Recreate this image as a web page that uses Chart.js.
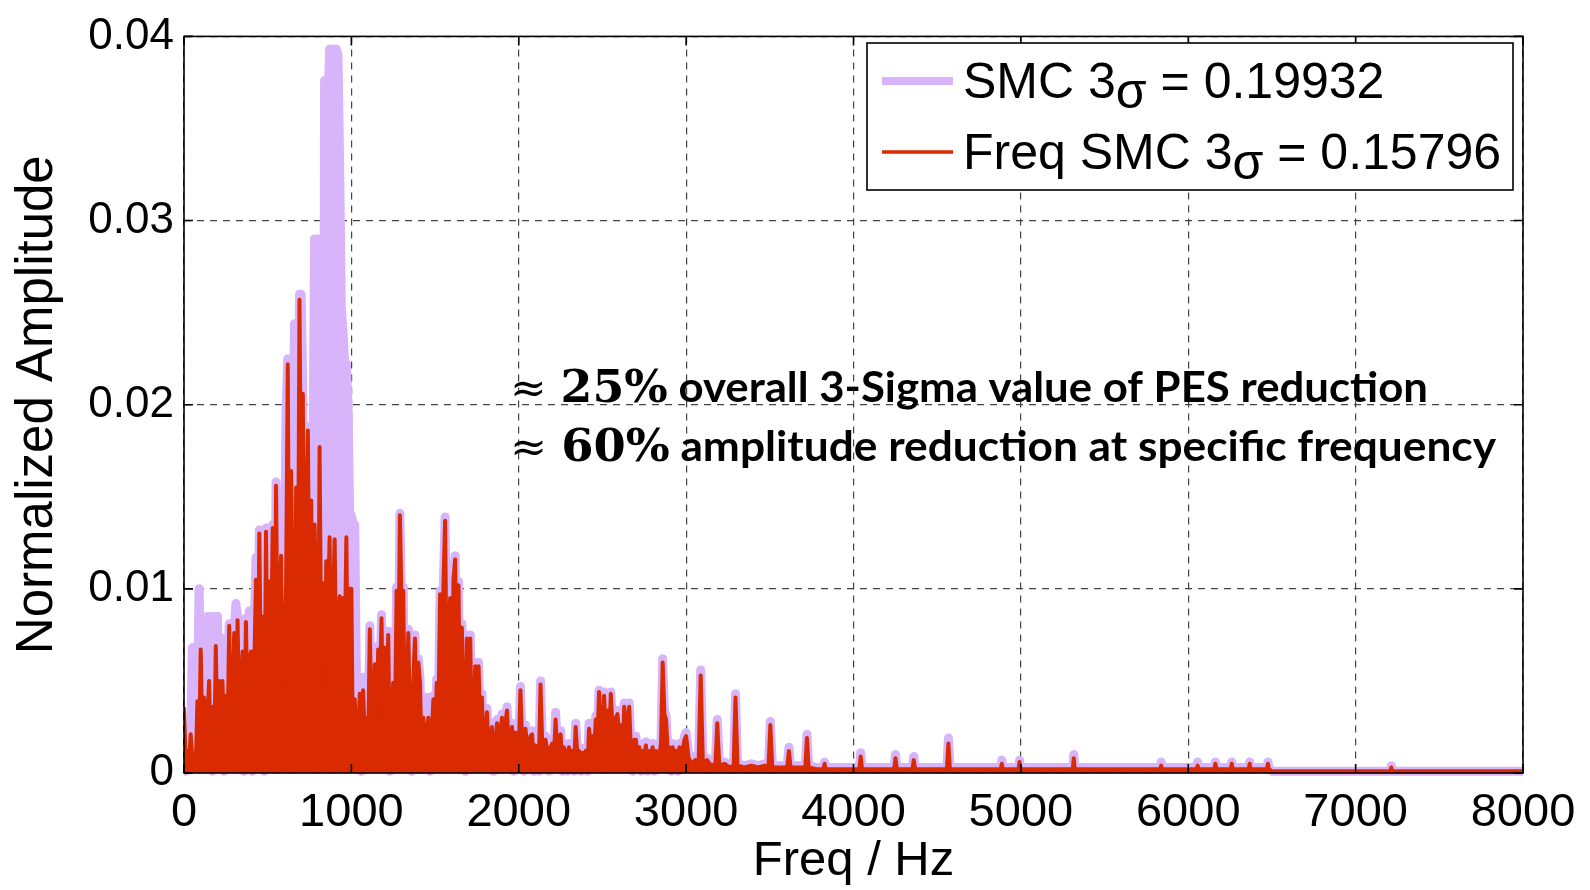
<!DOCTYPE html>
<html>
<head>
<meta charset="utf-8">
<script src="https://cdn.jsdelivr.net/npm/chart.js@4.4.0/dist/chart.umd.min.js"></script>
<style>
  body { margin: 0; background: #fff; }
  #spectrum { display: block; }
</style>
</head>
<body>
<canvas id="spectrum" width="1590" height="890"></canvas>
<script>
// FFT amplitude of the position error signal, plain SMC vs frequency-shaped SMC
// dense low band: one value per 10 Hz bin from 0 to 3000 Hz
const binHz = 10
const smcLow = [
  0.0020, 0.0001, 0.0020, 0.0012, 0.0022, 0.0068, 0.0030, 0.0055, 0.0042, 0.0100,
  0.0060, 0.0085, 0.0082, 0.0040, 0.0085, 0.0060, 0.0085, 0.0001, 0.0085, 0.0070,
  0.0085, 0.0040, 0.0073, 0.0073, 0.0001, 0.0060, 0.0045, 0.0081, 0.0079, 0.0040,
  0.0078, 0.0092, 0.0085, 0.0035, 0.0060, 0.0079, 0.0001, 0.0084, 0.0050, 0.0088,
  0.0070, 0.0001, 0.0080, 0.0117, 0.0050, 0.0132, 0.0060, 0.0095, 0.0001, 0.0133,
  0.0060, 0.0110, 0.0080, 0.0135, 0.0002, 0.0158, 0.0090, 0.0110, 0.0120, 0.0070,
  0.0110, 0.0198, 0.0225, 0.0002, 0.0166, 0.0160, 0.0244, 0.0244, 0.0150, 0.0260,
  0.0260, 0.0208, 0.0002, 0.0180, 0.0188, 0.0185, 0.0150, 0.0160, 0.0290, 0.0290,
  0.0290, 0.0260, 0.0290, 0.0002, 0.0376, 0.0376, 0.0360, 0.0393, 0.0393, 0.0393,
  0.0393, 0.0393, 0.0390, 0.0330, 0.0252, 0.0240, 0.0222, 0.0222, 0.0200, 0.0140,
  0.0140, 0.0135, 0.0135, 0.0052, 0.0040, 0.0052, 0.0001, 0.0052, 0.0030, 0.0035,
  0.0012, 0.0080, 0.0032, 0.0027, 0.0061, 0.0006, 0.0069, 0.0042, 0.0086, 0.0017,
  0.0070, 0.0032, 0.0077, 0.0001, 0.0037, 0.0051, 0.0022, 0.0101, 0.0047, 0.0141,
  0.0092, 0.0101, 0.0008, 0.0042, 0.0078, 0.0027, 0.0001, 0.0052, 0.0075, 0.0022,
  0.0062, 0.0051, 0.0006, 0.0032, 0.0041, 0.0024, 0.0041, 0.0001, 0.0022, 0.0042,
  0.0014, 0.0051, 0.0032, 0.0099, 0.0013, 0.0104, 0.0139, 0.0042, 0.0072, 0.0097,
  0.0008, 0.0107, 0.0118, 0.0052, 0.0104, 0.0022, 0.0081, 0.0037, 0.0001, 0.0075,
  0.0042, 0.0075, 0.0017, 0.0032, 0.0060, 0.0006, 0.0060, 0.0027, 0.0043, 0.0008,
  0.0022, 0.0035, 0.0014, 0.0020, 0.0027, 0.0001, 0.0017, 0.0029, 0.0012, 0.0024,
  0.0032, 0.0006, 0.0029, 0.0036, 0.0014, 0.0022, 0.0027, 0.0001, 0.0024, 0.0017,
  0.0014, 0.0047, 0.0020, 0.0001, 0.0026, 0.0017, 0.0012, 0.0022, 0.0023, 0.0001,
  0.0017, 0.0014, 0.0001, 0.0050, 0.0018, 0.0010, 0.0020, 0.0014, 0.0001, 0.0016,
  0.0018, 0.0010, 0.0033, 0.0014, 0.0020, 0.0023, 0.0001, 0.0016, 0.0013, 0.0001,
  0.0016, 0.0011, 0.0014, 0.0001, 0.0027, 0.0012, 0.0014, 0.0001, 0.0013, 0.0010,
  0.0014, 0.0001, 0.0027, 0.0017, 0.0026, 0.0012, 0.0031, 0.0020, 0.0045, 0.0027,
  0.0014, 0.0044, 0.0022, 0.0036, 0.0017, 0.0044, 0.0027, 0.0008, 0.0032, 0.0034,
  0.0020, 0.0028, 0.0006, 0.0038, 0.0022, 0.0030, 0.0038, 0.0014, 0.0001, 0.0020,
  0.0020, 0.0006, 0.0016, 0.0001, 0.0014, 0.0012, 0.0017, 0.0001, 0.0014, 0.0011,
  0.0016, 0.0001, 0.0014, 0.0010, 0.0012, 0.0018, 0.0062, 0.0034, 0.0031, 0.0014,
  0.0016, 0.0001, 0.0016, 0.0010, 0.0014, 0.0001, 0.0016, 0.0012, 0.0015, 0.0020,
  0.0022
]
const freqSmcLow = [
  0.0035, 0.0006, 0.0012, 0.0004, 0.0021, 0.0008, 0.0010, 0.0002, 0.0039, 0.0012,
  0.0067, 0.0015, 0.0041, 0.0003, 0.0030, 0.0050, 0.0008, 0.0036, 0.0004, 0.0069,
  0.0012, 0.0050, 0.0020, 0.0050, 0.0005, 0.0042, 0.0016, 0.0080, 0.0003, 0.0045,
  0.0076, 0.0010, 0.0083, 0.0025, 0.0048, 0.0066, 0.0004, 0.0082, 0.0030, 0.0060,
  0.0066, 0.0006, 0.0058, 0.0105, 0.0018, 0.0130, 0.0040, 0.0085, 0.0007, 0.0131,
  0.0030, 0.0104, 0.0062, 0.0133, 0.0010, 0.0156, 0.0050, 0.0090, 0.0118, 0.0004,
  0.0070, 0.0103, 0.0222, 0.0035, 0.0164, 0.0090, 0.0006, 0.0155, 0.0060, 0.0257,
  0.0120, 0.0206, 0.0010, 0.0140, 0.0186, 0.0070, 0.0148, 0.0040, 0.0135, 0.0095,
  0.0012, 0.0177, 0.0060, 0.0103, 0.0020, 0.0115, 0.0085, 0.0128, 0.0005, 0.0090,
  0.0127, 0.0050, 0.0075, 0.0096, 0.0008, 0.0095, 0.0060, 0.0128, 0.0030, 0.0100,
  0.0100, 0.0002, 0.0040, 0.0020, 0.0012, 0.0043, 0.0002, 0.0045, 0.0018, 0.0030,
  0.0010, 0.0078, 0.0030, 0.0025, 0.0059, 0.0008, 0.0067, 0.0040, 0.0084, 0.0015,
  0.0068, 0.0030, 0.0075, 0.0002, 0.0035, 0.0049, 0.0020, 0.0099, 0.0045, 0.0140,
  0.0090, 0.0099, 0.0010, 0.0040, 0.0076, 0.0025, 0.0002, 0.0050, 0.0073, 0.0020,
  0.0060, 0.0049, 0.0008, 0.0030, 0.0015, 0.0022, 0.0030, 0.0002, 0.0020, 0.0040,
  0.0012, 0.0049, 0.0030, 0.0097, 0.0015, 0.0102, 0.0137, 0.0040, 0.0070, 0.0095,
  0.0010, 0.0105, 0.0116, 0.0050, 0.0102, 0.0020, 0.0079, 0.0035, 0.0002, 0.0073,
  0.0040, 0.0073, 0.0015, 0.0030, 0.0058, 0.0008, 0.0058, 0.0025, 0.0041, 0.0010,
  0.0020, 0.0033, 0.0012, 0.0018, 0.0025, 0.0002, 0.0015, 0.0027, 0.0010, 0.0022,
  0.0030, 0.0008, 0.0027, 0.0034, 0.0012, 0.0020, 0.0025, 0.0002, 0.0022, 0.0015,
  0.0012, 0.0045, 0.0018, 0.0002, 0.0024, 0.0015, 0.0010, 0.0020, 0.0021, 0.0002,
  0.0015, 0.0012, 0.0002, 0.0048, 0.0016, 0.0008, 0.0018, 0.0012, 0.0002, 0.0014,
  0.0016, 0.0008, 0.0029, 0.0012, 0.0018, 0.0021, 0.0002, 0.0014, 0.0011, 0.0002,
  0.0014, 0.0009, 0.0012, 0.0002, 0.0025, 0.0010, 0.0012, 0.0002, 0.0011, 0.0008,
  0.0012, 0.0002, 0.0024, 0.0015, 0.0020, 0.0010, 0.0029, 0.0018, 0.0044, 0.0025,
  0.0012, 0.0042, 0.0020, 0.0034, 0.0015, 0.0043, 0.0025, 0.0010, 0.0030, 0.0032,
  0.0018, 0.0026, 0.0008, 0.0036, 0.0020, 0.0028, 0.0036, 0.0012, 0.0002, 0.0018,
  0.0018, 0.0008, 0.0014, 0.0002, 0.0012, 0.0010, 0.0015, 0.0002, 0.0012, 0.0009,
  0.0014, 0.0002, 0.0012, 0.0008, 0.0010, 0.0016, 0.0060, 0.0032, 0.0029, 0.0012,
  0.0014, 0.0002, 0.0014, 0.0008, 0.0012, 0.0002, 0.0014, 0.0010, 0.0013, 0.0018,
  0.0020
]

// sparse tail above 3 kHz: isolated harmonics over a flat floor
const tailHz = [
  3015, 3035, 3055, 3075, 3087, 3100, 3125, 3150, 3175, 3186,
  3198, 3230, 3260, 3284, 3295, 3307, 3350, 3390, 3430, 3470,
  3492, 3503, 3515, 3560, 3604, 3614, 3624, 3680, 3712, 3722,
  3732, 3780, 3820, 3827, 3835, 3930, 4035, 4043, 4051, 4243,
  4251, 4259, 4352, 4360, 4368, 4558, 4567, 4576, 4880, 4886,
  4892, 4986, 4992, 4998, 5310, 5316, 5322, 5832, 5838, 5844,
  6050, 6056, 6062, 6156, 6162, 6168, 6254, 6260, 6266, 6361,
  6367, 6373, 6470, 6476, 6482, 6500, 7207, 7213, 7219, 8000
]
const smcTail = [
  0.0010, 0.0006, 0.0009, 0.0008, 0.0056, 0.0007, 0.0008, 0.0005, 0.0006, 0.0029,
  0.0005, 0.0006, 0.0004, 0.0005, 0.0043, 0.0005, 0.0004, 0.0005, 0.0004, 0.0005,
  0.0004, 0.0028, 0.0004, 0.0004, 0.0004, 0.0014, 0.0004, 0.0004, 0.0004, 0.0021,
  0.0004, 0.0003, 0.0003, 0.0006, 0.0003, 0.0003, 0.0003, 0.0011, 0.0003, 0.0003,
  0.0010, 0.0003, 0.0003, 0.0009, 0.0003, 0.0003, 0.0019, 0.0003, 0.0003, 0.0007,
  0.0003, 0.0003, 0.0007, 0.0003, 0.0003, 0.0010, 0.0003, 0.0003, 0.0006, 0.0003,
  0.0003, 0.0006, 0.0003, 0.0003, 0.0006, 0.0003, 0.0003, 0.0006, 0.0003, 0.0003,
  0.0006, 0.0003, 0.0003, 0.0006, 0.0003, 0.0001, 0.0001, 0.0004, 0.0001, 0.0001
]
const freqSmcTail = [
  0.0008, 0.0005, 0.0007, 0.0006, 0.0053, 0.0005, 0.0007, 0.0004, 0.0005, 0.0027,
  0.0004, 0.0005, 0.0003, 0.0004, 0.0041, 0.0004, 0.0003, 0.0004, 0.0003, 0.0004,
  0.0003, 0.0026, 0.0003, 0.0003, 0.0003, 0.0012, 0.0003, 0.0003, 0.0003, 0.0019,
  0.0003, 0.0002, 0.0002, 0.0005, 0.0002, 0.0002, 0.0002, 0.0009, 0.0002, 0.0002,
  0.0008, 0.0002, 0.0002, 0.0007, 0.0002, 0.0002, 0.0016, 0.0002, 0.0002, 0.0005,
  0.0002, 0.0002, 0.0006, 0.0002, 0.0002, 0.0008, 0.0002, 0.0002, 0.0004, 0.0002,
  0.0002, 0.0004, 0.0002, 0.0002, 0.0005, 0.0002, 0.0002, 0.0005, 0.0002, 0.0002,
  0.0005, 0.0002, 0.0002, 0.0005, 0.0002, 0.0001, 0.0001, 0.0003, 0.0001, 0.0001
]

const seriesLabels = ['SMC 3σ = 0.19932', 'Freq SMC 3σ = 0.15796']
const notes = [
  ['≈ ', '25%', ' overall 3-Sigma value of PES reduction'],
  ['≈ ', '60%', ' amplitude reduction at specific frequency']
]

function toPoints(low, tail) {
  let pts = low.map((v, i) => ({ x: i * binHz, y: v }))
  tailHz.forEach((f, i) => pts.push({ x: f, y: tail[i] }))
  return pts
}

const purple = '#D8B4FA'
const red = '#D92A02'
const sans = '"Liberation Sans", Arial, sans-serif'

// box, inner tick marks, legend and the two remarks
const extras = {
  id: 'extras',
  afterDatasetsDraw(chart) {
    const { ctx, chartArea: a, scales } = chart
    ctx.save()
    ctx.strokeStyle = '#000'
    ctx.lineWidth = 1.6
    ctx.strokeRect(a.left, a.top, a.right - a.left, a.bottom - a.top)
    ctx.beginPath()
    scales.x.ticks.forEach(t => {
      const px = scales.x.getPixelForValue(t.value)
      ctx.moveTo(px, a.bottom); ctx.lineTo(px, a.bottom - 9)
      ctx.moveTo(px, a.top); ctx.lineTo(px, a.top + 9)
    })
    scales.y.ticks.forEach(t => {
      const py = scales.y.getPixelForValue(t.value)
      ctx.moveTo(a.left, py); ctx.lineTo(a.left + 9, py)
      ctx.moveTo(a.right, py); ctx.lineTo(a.right - 9, py)
    })
    ctx.stroke()
    ctx.restore()
  },
  afterDraw(chart) {
    const ctx = chart.ctx
    ctx.save()

    // legend
    const box = { x: 867, y: 43, w: 646, h: 147 }
    ctx.fillStyle = '#fff'
    ctx.fillRect(box.x, box.y, box.w, box.h)
    ctx.strokeStyle = '#000'
    ctx.lineWidth = 1.6
    ctx.strokeRect(box.x, box.y, box.w, box.h)
    const rows = [{ line: 81, base: 98 }, { line: 152, base: 169 }]
    chart.data.datasets.forEach((ds, i) => {
      const r = rows[i]
      ctx.strokeStyle = ds.borderColor
      ctx.lineWidth = i === 0 ? 8 : 3.5
      ctx.beginPath()
      ctx.moveTo(882, r.line); ctx.lineTo(953, r.line)
      ctx.stroke()
      ctx.fillStyle = '#000'
      ctx.font = '50px ' + sans
      ctx.textBaseline = 'alphabetic'
      const parts = ds.label.split('σ')
      let x = 963
      ctx.fillText(parts[0], x, r.base)
      x += ctx.measureText(parts[0]).width
      ctx.fillText('σ', x, r.base + 10)
      x += ctx.measureText('σ').width
      ctx.fillText(parts[1], x, r.base)
    })

    // remarks, squeezed to their line width
    const fonts = ['42px "DejaVu Serif", serif', 'bold 44px "DejaVu Serif", serif', 'bold 42px Lato, sans-serif']
    const lines = [{ x: 510, base: 402, w: 918 }, { x: 510, base: 461, w: 986 }]
    notes.forEach((parts, n) => {
      let natural = 0
      parts.forEach((p, k) => { ctx.font = fonts[k]; natural += ctx.measureText(p).width })
      ctx.save()
      ctx.translate(lines[n].x, lines[n].base)
      ctx.scale(lines[n].w / natural, 1)
      ctx.fillStyle = '#000'
      let cx = 0
      parts.forEach((p, k) => {
        ctx.font = fonts[k]
        ctx.fillText(p, cx, 0)
        cx += ctx.measureText(p).width
      })
      ctx.restore()
    })
    ctx.restore()
  }
}

Chart.defaults.color = '#000'

const chart = new Chart(document.getElementById('spectrum'), {
  type: 'line',
  data: {
    datasets: [
      {
        label: seriesLabels[0],
        data: toPoints(smcLow, smcTail),
        borderColor: purple,
        backgroundColor: purple,
        fill: 'origin',
        borderWidth: 9,
        order: 2,
        clip: { left: 0, top: 0, right: 0, bottom: 6 }
      },
      {
        label: seriesLabels[1],
        data: toPoints(freqSmcLow, freqSmcTail),
        borderColor: red,
        backgroundColor: red,
        fill: 'origin',
        borderWidth: 4,
        order: 1,
        clip: { left: 0, top: 0, right: 0, bottom: 3 }
      }
    ]
  },
  options: {
    responsive: false,
    animation: false,
    elements: {
      point: { radius: 0 },
      line: { tension: 0, borderJoinStyle: 'round', borderCapStyle: 'round' }
    },
    layout: { padding: { top: 31, right: 67, bottom: 0, left: 0 } },
    plugins: { legend: { display: false }, tooltip: { enabled: false } },
    scales: {
      x: {
        type: 'linear',
        min: 0,
        max: 8000,
        afterFit: s => { s.height = 117 },
        grid: { color: '#444', lineWidth: 1.2, drawTicks: false },
        border: { display: false, dash: [7, 6] },
        ticks: {
          stepSize: 1000,
          padding: 12,
          maxRotation: 0,
          font: { family: sans, size: 47 },
          callback: v => String(v)
        },
        title: {
          display: true,
          text: 'Freq / Hz',
          font: { family: sans, size: 49, lineHeight: 1 },
          padding: { top: 4, bottom: 4 }
        }
      },
      y: {
        min: 0,
        max: 0.04,
        afterFit: s => { s.width = 184 },
        grid: { color: '#444', lineWidth: 1.2, drawTicks: false },
        border: { display: false, dash: [7, 6] },
        ticks: {
          stepSize: 0.01,
          padding: 10,
          font: { family: sans, size: 44 },
          callback: v => v === 0 ? '0' : v.toFixed(2)
        },
        title: {
          display: true,
          text: 'Normalized Amplitude',
          font: { family: sans, size: 51, lineHeight: 1 },
          padding: { top: 12, bottom: 12 }
        }
      }
    }
  },
  plugins: [extras]
})
</script>
</body>
</html>
